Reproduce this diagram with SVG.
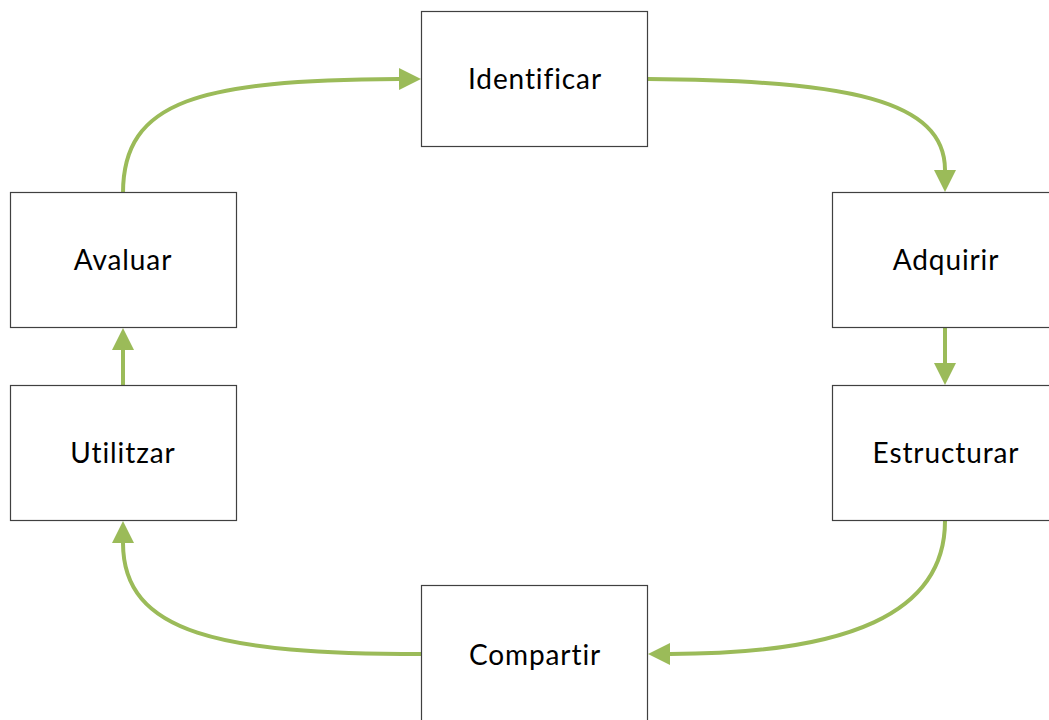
<svg xmlns="http://www.w3.org/2000/svg" width="1049" height="720" viewBox="0 0 1049 720">
  <style>
    .box { fill: #ffffff; stroke: #404040; stroke-width: 1.2; }
    .label { font-family: Lato, "Open Sans", "Liberation Sans", sans-serif; font-size: 28px; letter-spacing: 0.9px; font-variant-ligatures: none; fill: #000000; text-anchor: middle; }
    .flow { fill: none; stroke: #9bbb59; stroke-width: 4; }
  </style>
  <defs>
    <marker id="head" markerUnits="userSpaceOnUse" markerWidth="24" markerHeight="24" viewBox="0 -12 24 24" refX="0" refY="0" orient="auto">
      <path d="M0,-11 L22,0 L0,11 Z" fill="#9bbb59"/>
    </marker>
  </defs>
  <rect width="1049" height="720" fill="#ffffff"/>

  <g id="connectors">
    <path class="flow" d="M123,193 C123,100 200,80 399,79" marker-end="url(#head)"/>
    <path class="flow" d="M648,79 C847,80 945,100 945,170" marker-end="url(#head)"/>
    <path class="flow" d="M945,328 L945,363" marker-end="url(#head)"/>
    <path class="flow" d="M945,521 C945,614 847,654 670,654" marker-end="url(#head)"/>
    <path class="flow" d="M421,654 C222,654 123,634 123,543" marker-end="url(#head)"/>
    <path class="flow" d="M123,385 L123,350" marker-end="url(#head)"/>
  </g>

  <g id="identificar">
    <rect class="box" x="421.5" y="11.5" width="226" height="135"/>
    <text class="label" x="535" y="89">Identificar</text>
  </g>
  <g id="adquirir">
    <rect class="box" x="832.5" y="192.5" width="226" height="135"/>
    <text class="label" x="946" y="270">Adquirir</text>
  </g>
  <g id="estructurar">
    <rect class="box" x="832.5" y="385.5" width="226" height="135"/>
    <text class="label" x="946" y="463">Estructurar</text>
  </g>
  <g id="compartir">
    <rect class="box" x="421.5" y="585.5" width="226" height="145"/>
    <text class="label" x="535" y="665">Compartir</text>
  </g>
  <g id="utilitzar">
    <rect class="box" x="10.5" y="385.5" width="226" height="135"/>
    <text class="label" x="123" y="463">Utilitzar</text>
  </g>
  <g id="avaluar">
    <rect class="box" x="10.5" y="192.5" width="226" height="135"/>
    <text class="label" x="123" y="270">Avaluar</text>
  </g>
</svg>
